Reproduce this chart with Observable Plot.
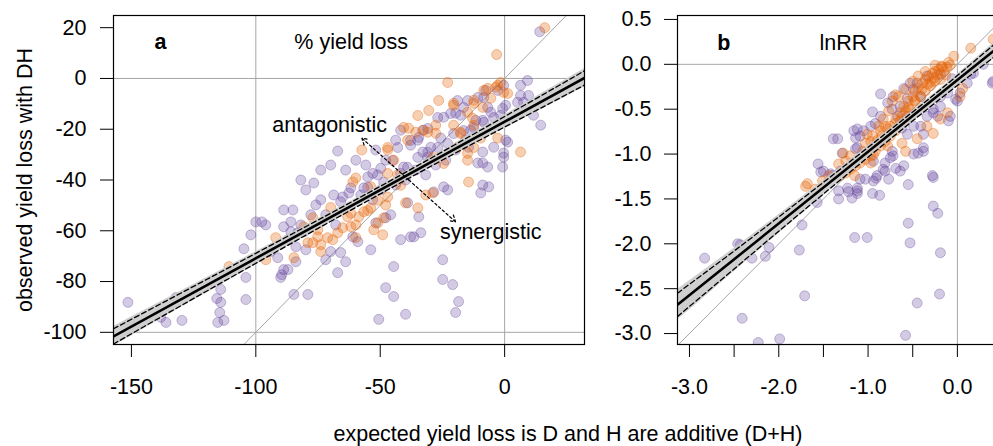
<!DOCTYPE html>
<html><head><meta charset="utf-8">
<script src="https://cdn.jsdelivr.net/npm/d3@7"></script>
<script src="https://cdn.jsdelivr.net/npm/@observablehq/plot@0.6"></script>
<style>
body{margin:0;background:#fff;}
#wrap{position:relative;width:993px;height:446px;overflow:hidden;background:#fff;font-family:"Liberation Sans",Arial,sans-serif;}
#wrap svg{max-width:none !important;}
#pa{position:absolute;left:0;top:0;width:600px;}
#pb{position:absolute;left:590px;top:0;width:417px;}
#xt{position:absolute;left:568px;top:422px;transform:translateX(-50%);white-space:nowrap;font-size:21.5px;line-height:24px;color:#000;}
</style></head>
<body>
<div id="wrap"><div id="pa"></div><div id="pb"></div><div id="xt">expected yield loss is D and H are additive (D+H)</div></div>
<script>
// ---------- Panel a: % yield loss ----------
const aPurple = [[-151.4,-88.2],[-150.6,-96.5],[-132.1,-86.3],[-136.1,-96.1],[-138.2,-94.1],[-129.7,-95.3],[-115.7,-86.7],[-114.1,-88.2],[-114.1,-83.1],[-114.5,-92.2],[-115.3,-96.1],[-112.8,-95.3],[-104.0,-87.1],[-104.0,-78.4],[-104.8,-67.1],[-100.0,-56.5],[-97.6,-56.5],[-90.0,-78.4],[-89.6,-77.3],[-88.8,-51.8],[-85.1,-51.8],[-84.7,-85.1],[-79.1,-85.1],[-87.1,-75.3],[-83.9,-72.2],[-79.9,-67.5],[-85.9,-60.4],[-87.1,-63.5],[-83.1,-60.8],[-94.0,-68.2],[-91.2,-70.6],[-71.9,-71.4],[-76.7,-41.2],[-68.7,-45.9],[-65.1,-46.7],[-61.8,-43.1],[-62.6,-45.1],[-65.9,-48.6],[-56.6,-43.1],[-85.9,-56.5],[-81.9,-57.7],[-88.8,-58.4],[-80.7,-60.4],[-83.9,-66.3],[-88.8,-75.3],[-67.1,-76.5],[-63.9,-72.2],[-69.9,-68.2],[-65.9,-68.6],[-61.0,-62.4],[-59.0,-64.3],[-53.8,-67.5],[-51.8,-56.9],[-47.8,-54.9],[-45.8,-53.7],[-44.6,-74.1],[-47.8,-82.4],[-44.6,-85.9],[-50.6,-94.9],[-39.8,-92.9],[-41.8,-63.5],[-37.8,-62.4],[-36.5,-62.4],[-33.7,-60.8],[-34.5,-54.5],[-39.0,-49.0],[-24.9,-71.4],[-24.9,-79.2],[-20.9,-81.2],[-18.5,-87.9],[-19.7,-92.2],[-9.6,-45.1],[-6.4,-42.7],[-22.9,-43.9],[-24.5,-42.7],[-28.5,-44.7],[-67.1,-28.6],[-43.8,-24.3],[-41.8,-20.4],[-34.9,-24.3],[-37.8,-26.3],[-32.9,-29.0],[-30.9,-31.0],[-40.6,-34.9],[-51.0,-38.0],[-55.0,-38.8],[-73.9,-47.8],[14.1,18.4],[9.2,-0.8],[6.4,-6.7],[9.6,-6.7],[6.4,-2.7],[7.6,-9.4],[5.2,-9.4],[11.6,-14.5],[14.5,-18.4],[0.4,-10.6],[-0.8,-11.8],[0.4,-24.3],[-0.4,-29.4],[-8.4,-7.5],[-0.4,-2.7],[-16.5,-11.4],[-17.7,-14.5],[-19.7,-13.7],[-24.5,-15.3],[-32.9,-20.4],[-8.4,-17.3],[-5.6,-13.3],[-1.6,-14.5],[-25.7,-23.5],[-29.7,-27.1],[-14.5,-27.1],[-8.8,-29.0],[-0.4,-31.0],[-0.8,-34.9],[-8.8,-33.3],[-6.8,-34.9],[-10.8,-33.3],[-4.4,-27.1],[1.2,-25.1],[-8.8,-42.0],[-73.9,-36.1],[-69.9,-34.1],[-63.9,-36.1],[-59.8,-32.2],[-55.8,-34.1],[-51.8,-28.2],[-47.8,-32.2],[-57.8,-45.9],[-53.0,-47.8],[-49.8,-43.9],[-43.8,-42.0],[-39.8,-40.0],[-35.7,-36.1],[-31.7,-38.0],[-27.7,-34.1],[-23.7,-32.2],[-19.7,-28.2],[-15.7,-24.3],[-13.7,-20.4],[-11.6,-16.5],[-81.9,-40.0],[-79.9,-43.9],[-75.9,-49.8],[-71.9,-53.7],[-67.9,-57.7],[-77.9,-53.7],[-96.0,-57.7],[-102.0,-61.6],[-53.0,-37.4],[-49.8,-35.4],[-45.0,-32.3],[-43.0,-27.2],[-37.8,-24.4],[-34.5,-23.2],[-30.9,-19.7],[-26.9,-15.4],[-21.7,-13.8],[-18.9,-8.7],[-14.9,-8.7],[-10.8,-7.5],[-7.6,-4.7],[-2.8,-4.7],[-55.0,-42.9],[-48.6,-40.9],[-41.8,-37.4],[-39.0,-35.0],[-34.9,-31.1],[-30.9,-29.1],[-26.9,-27.2],[-22.9,-25.6],[-20.5,-21.7],[-16.5,-20.5],[-12.4,-19.3],[-8.8,-16.5],[-4.4,-15.4],[-6.8,-11.4]];
const aOrange = [[-110.8,-74.1],[-92.0,-62.7],[-96.0,-71.4],[-77.1,-54.9],[-75.1,-62.4],[-73.9,-65.5],[-77.1,-64.7],[-80.7,-58.4],[-75.1,-59.6],[-71.1,-62.7],[-67.1,-60.8],[-65.1,-58.8],[-61.8,-58.4],[-59.8,-57.7],[-58.6,-54.5],[-56.6,-52.5],[-53.8,-51.0],[-51.0,-56.9],[-49.0,-61.6],[-52.6,-59.6],[-47.8,-49.8],[-47.0,-46.7],[-59.8,-62.7],[-84.7,-70.6],[-69.1,-63.5],[-48.6,-54.9],[-39.8,-49.0],[-34.9,-51.0],[-31.7,-45.9],[-28.9,-45.1],[-14.5,-40.8],[-79.1,-64.7],[-63.1,-54.5],[-73.9,-68.2],[-57.4,-28.2],[-47.0,-28.2],[-38.6,-19.6],[-35.7,-21.2],[-32.5,-20.4],[-39.0,-24.3],[-44.6,-32.2],[-59.8,-39.2],[-43.0,-38.0],[-53.8,-42.7],[-61.0,-40.8],[16.1,20.0],[-3.2,9.4],[-22.9,-1.6],[-6.8,-3.9],[-3.6,-3.5],[-0.4,-5.5],[1.2,-5.9],[-5.6,-7.8],[-12.4,-9.8],[-20.5,-10.6],[-14.9,-13.3],[-12.9,-15.7],[-12.4,-18.4],[-27.7,-18.4],[-30.9,-21.2],[-20.5,-18.4],[-17.7,-21.2],[-9.6,-23.5],[-2.8,-23.5],[6.4,-29.0],[-18.9,-27.1],[-14.9,-32.2],[-2.8,-2.7],[-1.6,-1.6],[-12.4,-8.6],[-8.8,-11.4],[-27.7,-21.6],[-47.0,-27.2],[-40.6,-19.3],[-34.9,-14.6],[-30.5,-12.6],[-26.5,-8.7],[-20.5,-9.8],[-8.4,-4.7],[-17.7,-21.7],[-14.9,-29.5],[-12.4,-27.2],[-28.9,-31.1],[-24.5,-33.5],[-47.0,-37.4],[-41.8,-42.1],[-51.0,-48.0],[-55.0,-52.0],[-61.8,-53.1],[-69.9,-50.8]];
const aXDomain = [-157.2, 32.1];
const aYDomain = [-104.8, 24.8];
const aXTicks = [-150, -100, -50, 0];
const aYTicks = [-100, -80, -60, -40, -20, 0, 20];
const aRefX = [-100, 0];
const aRefY = [-100, 0];
const aIdentity = [-104.8, 24.8];
const aFitX = [-157.2, 32.1];
const aFitY = [-101.6, 0.2];
const aBandX = [-157.2, -120, -80, -50, -20, 10, 32.1];
const aBandMid = [-101.6, -81.6, -60.1, -44.0, -27.8, -11.7, 0.2];
const aCiHalf = [3.0, 2.3, 1.7, 1.5, 1.7, 2.3, 2.8];
const aBandHalf = [3.9, 3.0, 2.2, 1.9, 2.2, 3.0, 3.6];
const aArrowFrom = [[-38.5, -40.0], [-38.5, -40.0]];
const aArrowTo = [[-57.4, -23.5], [-19.7, -56.5]];
const aLabels = [{x: -61.7, y: 14.5, t: "% yield loss"}, {x: -70.3, y: -18.5, t: "antagonistic"}, {x: -5.6, y: -60.7, t: "synergistic"}];
const aTag = [{x: -138.3, y: 14.5, t: "a"}];

// ---------- Panel b: lnRR ----------
const bPurple = [[-2.83,-2.16],[-2.46,-2.00],[-2.43,-2.01],[-2.11,-2.04],[-2.30,-2.16],[-2.15,-2.14],[-1.77,-2.07],[-1.74,-1.79],[-1.57,-1.54],[-1.71,-2.58],[-2.41,-2.83],[-2.23,-3.10],[-1.99,-3.06],[-1.53,-1.20],[-1.22,-1.42],[-1.12,-1.41],[-1.18,-1.49],[-1.09,-1.28],[-0.91,-1.27],[-0.77,-1.28],[-0.87,-1.46],[-0.81,-1.19],[-0.64,-1.19],[-0.55,-1.34],[-0.27,-1.26],[-0.55,-1.77],[-0.53,-1.99],[-0.27,-1.58],[-0.22,-1.66],[-0.19,-2.10],[-1.15,-1.93],[-1.01,-1.93],[-0.20,-2.56],[-0.45,-2.66],[-0.58,-3.02],[-0.86,-0.33],[-0.95,-0.53],[-0.92,-0.66],[-1.12,-0.72],[-1.16,-0.74],[-1.39,-0.83],[-1.34,-0.83],[-1.09,-0.80],[-1.14,-0.94],[-1.29,-0.99],[-1.56,-1.11],[-1.40,-1.24],[-1.31,-1.19],[-0.69,-1.16],[-0.83,-1.17],[-0.60,-1.13],[-0.44,-0.99],[-0.38,-0.97],[-0.49,-1.00],[-0.72,-1.02],[-0.81,-1.10],[-0.73,-0.97],[-0.08,-0.58],[-0.10,-0.63],[-0.22,-0.58],[-0.34,-0.58],[-0.02,-0.39],[0.11,-0.21],[0.15,-0.11],[0.39,-0.21],[-0.19,-0.47],[-0.27,-0.50],[-0.41,-0.36],[-0.49,-0.28],[-0.56,-0.38],[-0.64,-0.47],[-0.73,-0.50],[-0.67,-0.58],[-0.56,-0.58],[-0.49,-0.69],[-0.41,-0.69],[-0.19,-0.36],[-0.11,-0.32],[0.03,-0.32],[-0.06,-0.16],[-0.19,-0.11],[-0.34,-0.13],[-0.45,-0.21],[-0.53,-0.21],[-0.60,-0.27],[-0.72,-0.36],[-0.78,-0.43],[-0.86,-0.58],[-0.97,-0.69],[-1.05,-0.74],[0.29,0.00],[0.18,-0.10],[0.00,-0.41],[-0.27,-0.54],[-0.38,-0.78],[-0.38,-0.93],[-0.62,-0.71],[-0.56,-0.78],[-0.75,-1.04],[-0.94,-1.08],[-0.90,-1.24],[-0.94,-1.30],[-1.03,-1.28],[-1.23,-1.38],[-0.95,-1.44],[-1.12,-1.38],[-1.14,-0.82],[-1.12,-0.93],[-1.50,-1.19],[-1.42,-1.22],[-0.28,-1.24],[-1.33,-1.41],[-1.33,-1.50],[-1.12,-1.44],[0.40,-0.19]];
const bOrange = [[-0.04,0.09],[-0.25,-0.01],[0.15,0.18],[0.40,0.28],[-0.69,-0.34],[-0.94,-1.01],[-1.01,-0.78],[-1.28,-0.99],[-1.33,-1.11],[-1.68,-1.33],[-0.97,-1.10],[-0.78,-0.91],[-0.58,-0.97],[-0.62,-0.88],[-0.45,-0.83],[-0.34,-0.69],[-0.19,-0.61],[-0.11,-0.54],[-0.27,-0.77],[0.03,-0.36],[0.06,-0.27],[-0.75,-0.69],[-0.69,-0.61],[-0.64,-0.54],[-0.60,-0.47],[-0.55,-0.41],[-0.50,-0.36],[-0.47,-0.30],[-0.44,-0.26],[-0.39,-0.21],[-0.36,-0.17],[-0.32,-0.13],[-0.28,-0.10],[-0.25,-0.08],[-0.21,-0.06],[-0.17,-0.03],[-0.12,-0.03],[-0.08,-0.01],[-0.58,-0.52],[-0.53,-0.50],[-0.47,-0.41],[-0.41,-0.36],[-0.36,-0.30],[-0.30,-0.24],[-0.25,-0.19],[-0.19,-0.17],[-0.13,-0.12],[-0.64,-0.63],[-0.69,-0.74],[-0.75,-0.80],[-0.81,-0.86],[-0.86,-0.91],[-0.92,-0.97],[-0.97,-1.02],[-1.03,-1.06],[-1.09,-1.10],[-1.14,-1.13],[-1.20,-1.17],[-1.25,-1.21],[-1.31,-1.24],[-0.86,-0.74],[-0.81,-0.69],[-0.97,-0.86],[-1.06,-0.97],[-0.36,-0.08],[-0.44,-0.13],[-0.50,-0.19],[-0.58,-0.28],[-0.66,-0.36],[-0.73,-0.41],[-0.77,-0.52],[-0.83,-0.61],[-0.88,-0.69],[-0.95,-0.80],[-1.03,-0.88],[-1.20,-1.02],[-1.44,-1.24],[-1.51,-1.30],[-1.59,-1.39],[-1.70,-1.36],[-1.25,-1.08],[-1.15,-1.24],[-0.30,-0.20],[-0.22,-0.12],[-0.15,-0.08],[-0.40,-0.28],[-0.48,-0.40],[-0.55,-0.48],[-0.62,-0.58],[-0.70,-0.66],[-0.78,-0.72],[-0.85,-0.80],[-0.90,-0.85],[-0.33,-0.22],[-0.26,-0.15],[-0.18,-0.02],[-0.10,0.02]];
const bXDomain = [-3.134, 0.55];
const bYDomain = [-3.122, 0.544];
const bXTicks = [-3, -2.5, -2, -1.5, -1, -0.5, 0, 0.5];
const bYTicks = [-3, -2.5, -2, -1.5, -1, -0.5, 0, 0.5];
const bRefX = [0];
const bRefY = [0];
const bIdentity = [-3.122, 0.544];
const bFitX = [-3.134, 0.55];
const bFitY = [-2.68, 0.265];
const bBandX = [-3.134, -2.5, -2, -1.5, -1, -0.5, 0, 0.55];
const bBandMid = [-2.68, -2.18, -1.78, -1.38, -0.98, -0.58, -0.18, 0.265];
const bCiHalf = [0.13, 0.10, 0.08, 0.065, 0.055, 0.05, 0.055, 0.075];
const bBandHalf = [0.17, 0.13, 0.105, 0.085, 0.07, 0.065, 0.07, 0.10];
const bLabels = [{x: -1.277, y: 0.231, t: "lnRR"}];
const bTag = [{x: -2.615, y: 0.231, t: "b"}];

// ---------- helpers ----------
const PURPLE = "#5e3c99", ORANGE = "#e66101";
const FONT = '"Liberation Sans", Arial, sans-serif';
const toPts = arr => arr.map(([x, y]) => ({x, y}));
const band = (xs, mid, half) => xs.map((x, i) => ({x, lo: mid[i] - half[i], hi: mid[i] + half[i]}));
const dots = (arr, c, op) => Plot.dot(toPts(arr), {x: "x", y: "y", r: 5, fill: c, fillOpacity: op, stroke: c, strokeOpacity: op + 0.06, strokeWidth: 1, clip: true});

function panel(o) {
  const bandD = band(o.bandX, o.bandMid, o.bandHalf);
  const ciD = band(o.bandX, o.bandMid, o.ciHalf);
  const marks = [
    Plot.ruleX(o.refX, {stroke: "#a6a6a6", strokeWidth: 1}),
    Plot.ruleY(o.refY, {stroke: "#a6a6a6", strokeWidth: 1}),
    Plot.line(o.identity.map(v => ({x: v, y: v})), {x: "x", y: "y", stroke: "#a6a6a6", strokeWidth: 1, clip: true}),
    dots(o.purple, PURPLE, 0.27),
    dots(o.orange, ORANGE, 0.3),
    Plot.areaY(bandD, {x: "x", y1: "lo", y2: "hi", fill: "#cbcbcb", fillOpacity: 0.92, curve: "natural", clip: true}),
    Plot.line(ciD, {x: "x", y: "lo", stroke: "black", strokeWidth: 1.3, strokeDasharray: "5,3", curve: "natural", clip: true}),
    Plot.line(ciD, {x: "x", y: "hi", stroke: "black", strokeWidth: 1.3, strokeDasharray: "5,3", curve: "natural", clip: true}),
    Plot.line(o.fitX.map((x, i) => ({x, y: o.fitY[i]})), {x: "x", y: "y", stroke: "black", strokeWidth: 2.6, clip: true}),
    Plot.text(o.labels, {x: "x", y: "y", text: "t", fill: "black"}),
    Plot.text(o.tag, {x: "x", y: "y", text: "t", fill: "black", fontWeight: "bold"})
  ];
  if (o.arrowFrom) {
    marks.push(Plot.arrow(o.arrowFrom.map((f, i) => ({x1: f[0], y1: f[1], x2: o.arrowTo[i][0], y2: o.arrowTo[i][1]})),
      {x1: "x1", y1: "y1", x2: "x2", y2: "y2", stroke: "black", strokeWidth: 1.2, strokeDasharray: "2.5,2.5", headLength: 9}));
  }
  if (o.ylabel) {
    marks.push(Plot.text([o.ylabel], {frameAnchor: "left", textAnchor: "middle", dx: -88, rotate: -90, fill: "black"}));
  }
  marks.push(Plot.frame({stroke: "black", strokeWidth: 1.2}));
  return Plot.plot({
    width: o.width, height: 446,
    marginTop: 15, marginBottom: 102, marginLeft: o.ml, marginRight: o.mr,
    style: {fontFamily: FONT, fontSize: "21.5px", background: "transparent", color: "black", maxWidth: "none"},
    x: {domain: o.xDomain, ticks: o.xTicks, tickSize: 13, tickPadding: 21, tickFormat: o.xFmt, label: null},
    y: {domain: o.yDomain, ticks: o.yTicks, tickSize: 13, tickPadding: o.yPad, tickFormat: o.yFmt, label: null},
    marks
  });
}

document.getElementById("pa").appendChild(panel({
  width: 600, ml: 113, mr: 16, yPad: 14,
  xDomain: aXDomain, yDomain: aYDomain, xTicks: aXTicks, yTicks: aYTicks,
  xFmt: d => String(d), yFmt: d => String(d),
  refX: aRefX, refY: aRefY, identity: aIdentity,
  purple: aPurple, orange: aOrange,
  fitX: aFitX, fitY: aFitY, bandX: aBandX, bandMid: aBandMid, ciHalf: aCiHalf, bandHalf: aBandHalf,
  labels: aLabels, tag: aTag, arrowFrom: aArrowFrom, arrowTo: aArrowTo,
  ylabel: "observed yield loss with DH"
}));

document.getElementById("pb").appendChild(panel({
  width: 417, ml: 87, mr: 1, yPad: 13,
  xDomain: bXDomain, yDomain: bYDomain, xTicks: bXTicks, yTicks: bYTicks,
  xFmt: d => Number.isInteger(d) ? d.toFixed(1) : "", yFmt: d => d.toFixed(1),
  refX: bRefX, refY: bRefY, identity: bIdentity,
  purple: bPurple, orange: bOrange,
  fitX: bFitX, fitY: bFitY, bandX: bBandX, bandMid: bBandMid, ciHalf: bCiHalf, bandHalf: bBandHalf,
  labels: bLabels, tag: bTag
}));
</script>
</body></html>
